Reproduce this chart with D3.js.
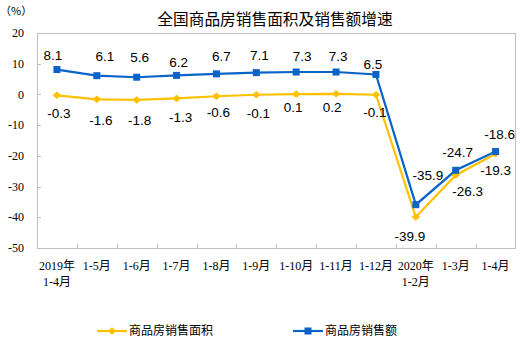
<!DOCTYPE html>
<html>
<head>
<meta charset="utf-8">
<script src="https://cdn.jsdelivr.net/npm/d3@7/dist/d3.min.js"></script>
<style>
  html, body { margin: 0; padding: 0; background: #fff; }
  svg { display: block; }
</style>
</head>
<body>
<svg id="chart" width="523" height="340"></svg>
<script>
// Categories (two-line labels use "\n")
const categories = ["2019年\n1-4月", "1-5月", "1-6月", "1-7月", "1-8月", "1-9月",
  "1-10月", "1-11月", "1-12月", "2020年\n1-2月", "1-3月", "1-4月"];

// Cumulative year-on-year growth, %
const areaGrowth = [-0.3, -1.6, -1.8, -1.3, -0.6, -0.1, 0.1, 0.2, -0.1, -39.9, -26.3, -19.3];
const salesGrowth = [8.1, 6.1, 5.6, 6.2, 6.7, 7.1, 7.3, 7.3, 6.5, -35.9, -24.7, -18.6];

const yTicks = [20, 10, 0, -10, -20, -30, -40, -50];

const seriesNames = ["商品房销售面积", "商品房销售额"];
const titleText = "全国商品房销售面积及销售额增速";
const unitText = "（%）";

// Per-label nudges [dx, dy] from each point
const areaNudge = [[2, 18], [4, 21], [3, 20], [4, 19], [2, 16], [2, 18], [-3, 13], [-4, 13], [-1, 17], [-6, 19], [12, 16], [0, 16]];
const salesNudge = [[-4, -14], [8, -20], [3, -20], [2, -13], [5, -18], [3, -17], [6, -16], [2, -16], [-3, -10], [12, -30], [2, -18], [4, -17]];

const colors = { area: "#ffc000", sales: "#0a64c8", axis: "#bfbfbf" };
const serif = "'Liberation Serif', 'Noto Sans CJK SC', serif";
const sans = "'Liberation Sans', Arial, 'Noto Sans CJK SC', sans-serif";
const cjk = "'Noto Sans CJK SC', sans-serif";

// one decimal, plain hyphen for negatives
const fmt = d => d.toFixed(1);

const svg = d3.select("#chart");
const plot = { left: 37, right: 515.5, top: 33, bottom: 248 };

const x = d3.scaleBand().domain(categories).range([plot.left, plot.right]);
const y = d3.scaleLinear().domain([-50, 20]).range([plot.bottom, plot.top]);
const cx = c => x(c) + x.bandwidth() / 2;

// Title and unit
svg.append("text").attr("x", 275).attr("y", 25).attr("text-anchor", "middle")
  .attr("font-family", cjk).attr("font-size", 15.7).attr("fill", "#000")
  .text(titleText);
svg.append("text").attr("x", 0).attr("y", 15)
  .attr("font-family", cjk).attr("font-size", 11).attr("fill", "#000")
  .text(unitText);

// Plot frame: top and right edges
svg.append("path")
  .attr("d", `M${plot.left},${plot.top}H${plot.right}V${plot.bottom}`)
  .attr("fill", "none").attr("stroke", colors.axis).attr("stroke-width", 1)
  .attr("shape-rendering", "crispEdges");

// Y axis with inner ticks
const yAxis = svg.append("g").attr("transform", `translate(${plot.left},0)`)
  .call(d3.axisRight(y).tickValues(yTicks).tickSize(4).tickFormat(""));
yAxis.select(".domain").attr("d", `M0,${plot.top}V${plot.bottom}`);
yAxis.selectAll("path, line").attr("stroke", colors.axis).attr("shape-rendering", "crispEdges");
svg.append("g").selectAll("text").data(yTicks).join("text")
  .attr("x", 24).attr("y", d => y(d)).attr("dy", "0.35em")
  .attr("text-anchor", "end").attr("font-family", serif).attr("font-size", 12)
  .attr("fill", "#000").text(d => d);

// X axis: ticks at band boundaries, pointing inward
const xAxis = svg.append("g").attr("transform", `translate(0,${plot.bottom})`)
  .call(d3.axisBottom(x).tickSize(0).tickFormat(""));
xAxis.select(".domain").attr("d", `M${plot.left},0H${plot.right}`);
xAxis.selectAll("path").attr("stroke", colors.axis).attr("shape-rendering", "crispEdges");
xAxis.selectAll(".tick").remove();
xAxis.selectAll("line.bound").data(categories.slice(1)).join("line")
  .attr("class", "bound")
  .attr("x1", c => Math.round(x(c)) + 0.5).attr("x2", c => Math.round(x(c)) + 0.5)
  .attr("y1", 0).attr("y2", -4).attr("stroke", colors.axis);

const xl = svg.append("g").selectAll("text").data(categories).join("text")
  .attr("x", c => cx(c)).attr("y", 270).attr("text-anchor", "middle")
  .attr("font-family", serif).attr("font-size", 12).attr("fill", "#000");
xl.each(function (c) {
  const lines = c.split("\n");
  d3.select(this).selectAll("tspan").data(lines).join("tspan")
    .attr("x", cx(c)).attr("dy", (d, i) => i === 0 ? 0 : 16).text(d => d);
});

// Lines
const line = d3.line().x((d, i) => cx(categories[i])).y(d => y(d));
svg.append("path").datum(areaGrowth).attr("d", line)
  .attr("fill", "none").attr("stroke", colors.area).attr("stroke-width", 2.2);
svg.append("path").datum(salesGrowth).attr("d", line)
  .attr("fill", "none").attr("stroke", colors.sales).attr("stroke-width", 2.2);

// Markers
const diamond = d3.symbol().type(d3.symbolDiamond2).size(36);
svg.append("g").selectAll("path").data(areaGrowth).join("path")
  .attr("d", diamond)
  .attr("transform", (d, i) => `translate(${cx(categories[i])},${y(d)}) scale(1.15,1)`)
  .attr("fill", colors.area);
svg.append("g").selectAll("rect").data(salesGrowth).join("rect")
  .attr("x", (d, i) => cx(categories[i]) - 3.5).attr("y", d => y(d) - 3.5)
  .attr("width", 7).attr("height", 7).attr("fill", colors.sales);

// Value labels
function labels(values, nudge) {
  svg.append("g").selectAll("text").data(values).join("text")
    .attr("x", (d, i) => cx(categories[i]) + nudge[i][0])
    .attr("y", (d, i) => y(d) + nudge[i][1])
    .attr("dy", "0.36em").attr("text-anchor", "middle")
    .attr("font-family", sans).attr("font-size", 13.5).attr("fill", "#000")
    .text(fmt);
}
labels(areaGrowth, areaNudge);
labels(salesGrowth, salesNudge);

// Legend
const legendItems = [
  { name: seriesNames[0], color: colors.area, kind: "diamond", x0: 97 },
  { name: seriesNames[1], color: colors.sales, kind: "square", x0: 293 }
];
const ly = 331;
legendItems.forEach(it => {
  const g = svg.append("g");
  g.append("line").attr("x1", it.x0).attr("x2", it.x0 + 30).attr("y1", ly).attr("y2", ly)
    .attr("stroke", it.color).attr("stroke-width", 2.2);
  if (it.kind === "diamond") {
    g.append("path").attr("d", diamond)
      .attr("transform", `translate(${it.x0 + 15},${ly}) scale(1.15,1)`).attr("fill", it.color);
  } else {
    g.append("rect").attr("x", it.x0 + 15 - 3.5).attr("y", ly - 3.5)
      .attr("width", 7).attr("height", 7).attr("fill", it.color);
  }
  g.append("text").attr("x", it.x0 + 32).attr("y", ly).attr("dy", "0.36em")
    .attr("font-family", cjk).attr("font-size", 12).attr("fill", "#000").text(it.name);
});
</script>
</body>
</html>
